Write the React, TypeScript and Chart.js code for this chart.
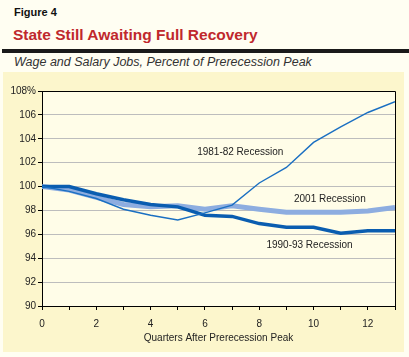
import React, { useEffect, useRef } from "react";
import { Chart, registerables } from "chart.js";

Chart.register(...registerables);

const quarters = [0, 1, 2, 3, 4, 5, 6, 7, 8, 9, 10, 11, 12, 13];
const recession1981 = [100, 99.6, 99.0, 98.1, 97.6, 97.2, 97.8, 98.45, 100.3, 101.6, 103.7, 105.0, 106.2, 107.1];
const recession1990 = [100, 100.0, 99.4, 98.9, 98.5, 98.3, 97.6, 97.5, 96.9, 96.6, 96.6, 96.1, 96.3, 96.3];
const recession2001 = [100, 99.7, 99.1, 98.5, 98.3, 98.4, 98.1, 98.4, 98.1, 97.85, 97.85, 97.85, 97.95, 98.25];
const seriesNames = ["1981-82 Recession", "1990-93 Recession", "2001 Recession"];
const labelX = [7.3, 9.85, 10.6];
const labelY = [102.9, 95.05, 98.95];

const FONT = "'Liberation Sans', Arial, sans-serif";

export default function App() {
  const ref = useRef<HTMLCanvasElement | null>(null);

  useEffect(() => {
    if (!ref.current) return;
    const deco = {
      id: "deco",
      beforeDraw(chart: any) {
        const { ctx, chartArea } = chart;
        ctx.save();
        ctx.fillStyle = "#FCF6CC";
        ctx.fillRect(3, 72, 401, 280);
        ctx.fillStyle = "#FFFDE8";
        ctx.fillRect(chartArea.left, chartArea.top, chartArea.right - chartArea.left, chartArea.bottom - chartArea.top);
        ctx.restore();
      },
      afterDraw(chart: any) {
        const { ctx, chartArea, scales } = chart;
        ctx.save();
        ctx.strokeStyle = "#000";
        ctx.lineWidth = 1;
        ctx.beginPath();
        ctx.moveTo(chartArea.left, chartArea.top + 0.5);
        ctx.lineTo(chartArea.right + 0.5, chartArea.top + 0.5);
        ctx.lineTo(chartArea.right + 0.5, chartArea.bottom);
        ctx.stroke();
        ctx.fillStyle = "#222";
        ctx.font = `10px ${FONT}`;
        ctx.textAlign = "center";
        ctx.textBaseline = "middle";
        seriesNames.forEach((n, i) => {
          ctx.fillText(n, scales.x.getPixelForValue(labelX[i]), scales.y.getPixelForValue(labelY[i]));
        });
        ctx.restore();
      },
    };

    const chart = new Chart(ref.current, {
      type: "line",
      data: {
        labels: quarters,
        datasets: [
          { label: seriesNames[0], data: quarters.map((q, i) => ({ x: q, y: recession1981[i] })), borderColor: "#1A6FC2", borderWidth: 1.4, pointRadius: 0, tension: 0 },
          { label: seriesNames[1], data: quarters.map((q, i) => ({ x: q, y: recession1990[i] })), borderColor: "#0A5DB0", borderWidth: 3.5, pointRadius: 0, tension: 0 },
          { label: seriesNames[2], data: quarters.map((q, i) => ({ x: q, y: recession2001[i] })), borderColor: "#8DADE0", borderWidth: 5, pointRadius: 0, tension: 0 },
        ],
      },
      options: {
        animation: false,
        responsive: false,
        maintainAspectRatio: false,
        layout: { padding: { top: 91, right: 14, bottom: 5, left: 3 } },
        plugins: { legend: { display: false }, tooltip: { enabled: false }, title: { display: false } },
        scales: {
          x: {
            type: "linear",
            min: 0,
            max: 13,
            afterFit(scale: any) { scale.height = 46; },
            border: { display: true, color: "#000", width: 1 },
            grid: { drawOnChartArea: false, drawTicks: true, tickLength: 4, tickColor: "#000" },
            ticks: {
              stepSize: 1,
              autoSkip: false,
              maxRotation: 0,
              padding: 8,
              color: "#222",
              font: { family: FONT, size: 10 },
              callback: (v: any) => (Number(v) % 2 === 0 ? String(v) : ""),
            },
            title: {
              display: true,
              text: "Quarters After Prerecession Peak",
              color: "#222",
              font: { family: FONT, size: 10 },
              padding: { top: 0, bottom: 8 },
            },
          },
          y: {
            min: 90,
            max: 108,
            afterFit(scale: any) { scale.width = 39; },
            border: { display: true, color: "#000", width: 1 },
            grid: { color: "#BDBDBD", lineWidth: 1, tickLength: 4, tickColor: "#000" },
            ticks: {
              stepSize: 2,
              padding: 2,
              color: "#222",
              font: { family: FONT, size: 10 },
              callback: (v: any) => (Number(v) === 108 ? "108%" : String(v)),
            },
          },
        },
      },
      plugins: [deco],
    });
    return () => chart.destroy();
  }, []);

  return (
    <div style={{ position: "fixed", left: 0, top: 0, width: 409, height: 357, background: "#FFFEF2", overflow: "hidden", fontFamily: FONT }}>
      <div style={{ position: "absolute", left: 14, top: 5, fontSize: 11, fontWeight: "bold", color: "#111", lineHeight: "15px" }}>Figure 4</div>
      <div style={{ position: "absolute", left: 13, top: 25, fontSize: 15.5, fontWeight: "bold", color: "#C0282D", lineHeight: "20px" }}>State Still Awaiting Full Recovery</div>
      <div style={{ position: "absolute", left: 2, top: 49, width: 407, height: 4, background: "#1A1A1A" }} />
      <div style={{ position: "absolute", left: 14, top: 54, fontSize: 12.5, fontStyle: "italic", color: "#333", lineHeight: "16px" }}>Wage and Salary Jobs, Percent of Prerecession Peak</div>
      <canvas ref={ref} width={409} height={357} style={{ position: "absolute", left: 0, top: 0, width: 409, height: 357 }} />
    </div>
  );
}
